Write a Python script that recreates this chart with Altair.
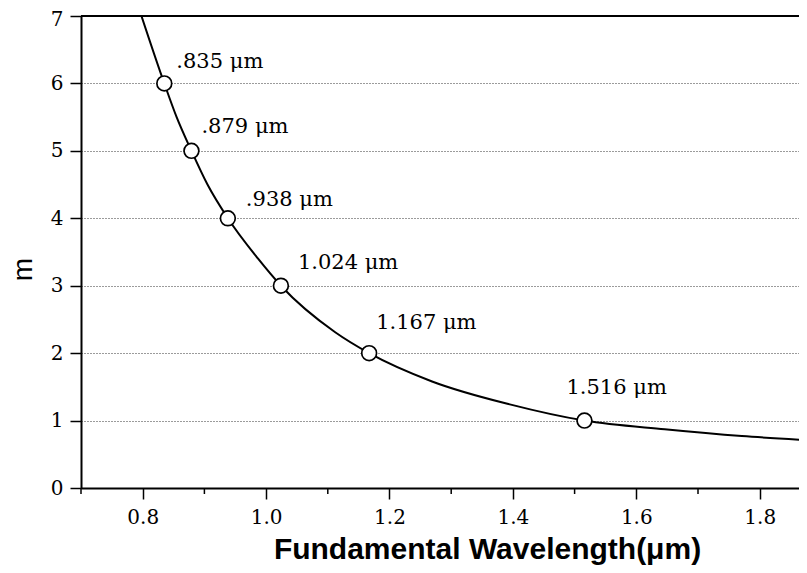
import altair as alt
import pandas as pd

# Curve (wavelength in µm, order m)
curve_wl = [0.798, 0.835, 0.855, 0.879, 0.905, 0.938, 0.987, 1.024, 1.112, 1.167, 1.269, 1.395, 1.516, 1.646, 1.771, 1.877]
curve_m = [7.0, 6.0, 5.5, 5.0, 4.5, 4.0, 3.40, 3.0, 2.31, 2.0, 1.58, 1.24, 1.0, 0.87, 0.77, 0.71]

# Marked points
point_wl = [0.835, 0.879, 0.938, 1.024, 1.167, 1.516]
point_m = [6, 5, 4, 3, 2, 1]
point_labels = [".835 μm", ".879 μm", ".938 μm", "1.024 μm", "1.167 μm", "1.516 μm"]

# Ticks
x_major = [0.8, 1.0, 1.2, 1.4, 1.6, 1.8]
x_minor = [0.7, 0.9, 1.1, 1.3, 1.5, 1.7]
y_ticks = [0, 1, 2, 3, 4, 5, 6, 7]

df_curve = pd.DataFrame({"wl": curve_wl, "m": curve_m})
df_pts = pd.DataFrame({"wl": point_wl, "m": point_m, "label": point_labels})
df_minor = pd.DataFrame({"wl": x_minor})

W, H = 718, 472
xscale = alt.Scale(domain=[0.7, 0.7 + W / 617.0], nice=False, zero=False)
yscale = alt.Scale(domain=[0, 7], nice=False, zero=False)

SERIF = "DejaVu Serif"
SANS = "Liberation Sans"

x_axis = alt.Axis(
    values=x_major, format=".1f", grid=False,
    domainColor="black", domainWidth=2,
    tickColor="black", tickWidth=1.5, tickSize=11,
    labelFont=SERIF, labelFontSize=20, labelColor="black", labelPadding=8,
    title="Fundamental Wavelength(μm)", titleFont=SANS, titleFontSize=30,
    titleFontWeight="bold", titleColor="black",
    titleX=406, titleY=70, titleAlign="center", titleBaseline="alphabetic",
)
y_axis = alt.Axis(
    values=y_ticks, format="d", grid=True,
    gridColor="#222", gridDash=[1, 2], gridWidth=1, gridOpacity=0.9,
    domainColor="black", domainWidth=2,
    tickColor="black", tickWidth=1.5, tickSize=11,
    labelFont=SERIF, labelFontSize=20, labelColor="black", labelPadding=7,
    labelOffset=alt.condition("datum.value == 7", alt.value(3), alt.value(0)),
    title="m", titleFont=SANS, titleFontSize=28, titleFontWeight="normal",
    titleColor="black", titleX=-58, titleY=253, titleAlign="center",
    titleBaseline="middle", titleAngle=-90,
)

line = alt.Chart(df_curve).mark_line(
    color="black", strokeWidth=2, clip=True, interpolate="monotone"
).encode(
    x=alt.X("wl:Q", scale=xscale, axis=x_axis),
    y=alt.Y("m:Q", scale=yscale, axis=y_axis),
)

top_line = alt.Chart(df_minor).mark_rule(color="black", strokeWidth=1.8).encode(
    y=alt.datum(7), x=alt.value(0), x2=alt.value(W)
)

minor = alt.Chart(df_minor).mark_rule(color="black", strokeWidth=1.5).encode(
    x=alt.X("wl:Q", scale=xscale), y=alt.value(H), y2=alt.value(H + 6)
)

points = alt.Chart(df_pts).mark_point(
    shape="circle", filled=True, fill="white", stroke="black",
    strokeWidth=1.7, size=220, opacity=1
).encode(x=alt.X("wl:Q", scale=xscale), y=alt.Y("m:Q", scale=yscale))

offsets = {
    ".835 μm": (12, -21),
    ".879 μm": (10, -24),
    ".938 μm": (18, -18),
    "1.024 μm": (17, -23),
    "1.167 μm": (7, -30),
    "1.516 μm": (-18, -33),
}
labels = []
for lab in point_labels:
    dx, dy = offsets[lab]
    labels.append(
        alt.Chart(df_pts).transform_filter(alt.datum.label == lab).mark_text(
            align="left", baseline="middle", font=SERIF, fontSize=21,
            color="black", dx=dx, dy=dy
        ).encode(x=alt.X("wl:Q", scale=xscale), y=alt.Y("m:Q", scale=yscale), text="label:N")
    )

chart = alt.layer(line, top_line, minor, points, *labels).properties(
    width=W, height=H,
    padding={"left": 73, "top": 8, "right": 0, "bottom": 77},
    autosize=alt.AutoSizeParams(type="none"),
).configure_view(stroke=None)

chart.save("out.html", embed_options={"renderer": "svg", "actions": False})
